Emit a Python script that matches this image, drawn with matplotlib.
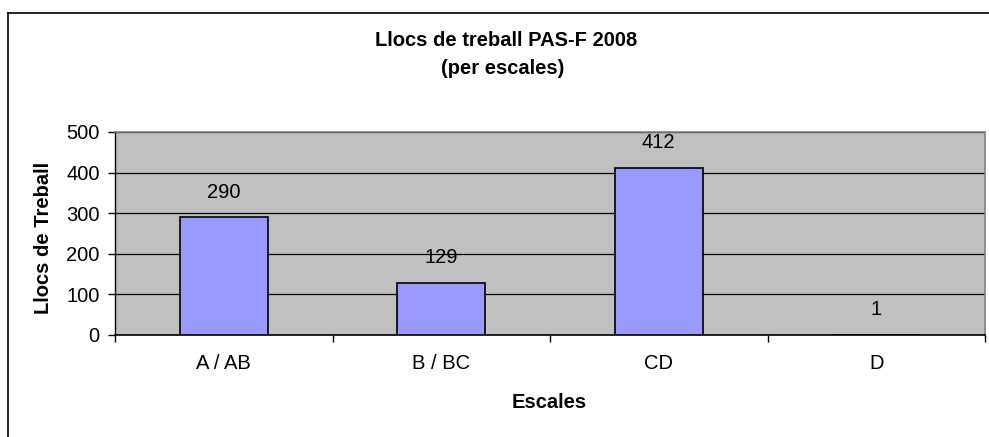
import matplotlib
matplotlib.use("Agg")
import matplotlib.pyplot as plt
from matplotlib.lines import Line2D
import numpy as np

plt.rcParams['font.family'] = ['Liberation Sans', 'DejaVu Sans']

categories = ["A / AB", "B / BC", "CD", "D"]
values = [290, 129, 412, 1]
yticks = [0, 100, 200, 300, 400, 500]

W, H = 989, 437
FS = 14.5
fig = plt.figure(figsize=(W / 100, H / 100), dpi=100)
fig.patch.set_facecolor("white")

# outer chart frame (extends beyond right/bottom)
fig.add_artist(Line2D([7.5 / W, 7.5 / W], [1 - 13 / H, 0], color="black", lw=1.2, transform=fig.transFigure))
fig.add_artist(Line2D([7.5 / W, 1], [1 - 13 / H, 1 - 13 / H], color="black", lw=1.2, transform=fig.transFigure))

ax = fig.add_axes([115 / W, 1 - 335 / H, (985 - 115) / W, (335 - 132) / H])
ax.set_facecolor("#C0C0C0")
x = np.arange(len(categories))
ax.bar(x, values, width=0.405, color="#9999FF", edgecolor="black", linewidth=1.2, zorder=3)
ax.set_xlim(-0.5, len(categories) - 0.5)
ax.set_ylim(0, 500)
ax.set_yticks(yticks)
ax.yaxis.grid(True, color="black", linewidth=0.9, zorder=1)
ax.set_axisbelow(True)

for xi, v in zip(x, values):
    ax.annotate(str(v), (xi, v), xytext=(0, 18), textcoords="offset points",
                ha="center", va="center", fontsize=FS)

ax.set_xticks(x)
ax.set_xticklabels(categories, fontsize=FS)
ax.tick_params(axis="x", length=0, pad=14)
ax.set_xticks(np.arange(-0.5, len(categories)), minor=True)
ax.tick_params(axis="x", which="minor", length=5, width=1, direction="out")
ax.tick_params(axis="y", length=5, width=1, direction="out", labelsize=FS, pad=6)

for s in ["top", "right"]:
    ax.spines[s].set_color("#808080")
    ax.spines[s].set_linewidth(1.2)
ax.spines["left"].set_color("black")
ax.spines["bottom"].set_color("black")
ax.spines["left"].set_linewidth(1.0)
ax.spines["bottom"].set_linewidth(1.2)

fig.text(506 / W, 1 - 41 / H, "Llocs de treball PAS-F 2008", ha="center", va="center",
         fontsize=FS, fontweight="bold")
fig.text(503 / W, 1 - 68 / H, "(per escales)", ha="center", va="center",
         fontsize=FS, fontweight="bold")
fig.text(44 / W, 1 - 238 / H, "Llocs de Treball", ha="center", va="center", rotation=90,
         fontsize=FS, fontweight="bold")
fig.text(549.5 / W, 1 - 402 / H, "Escales", ha="center", va="center",
         fontsize=FS, fontweight="bold")

fig.savefig("out.png", dpi=100)
